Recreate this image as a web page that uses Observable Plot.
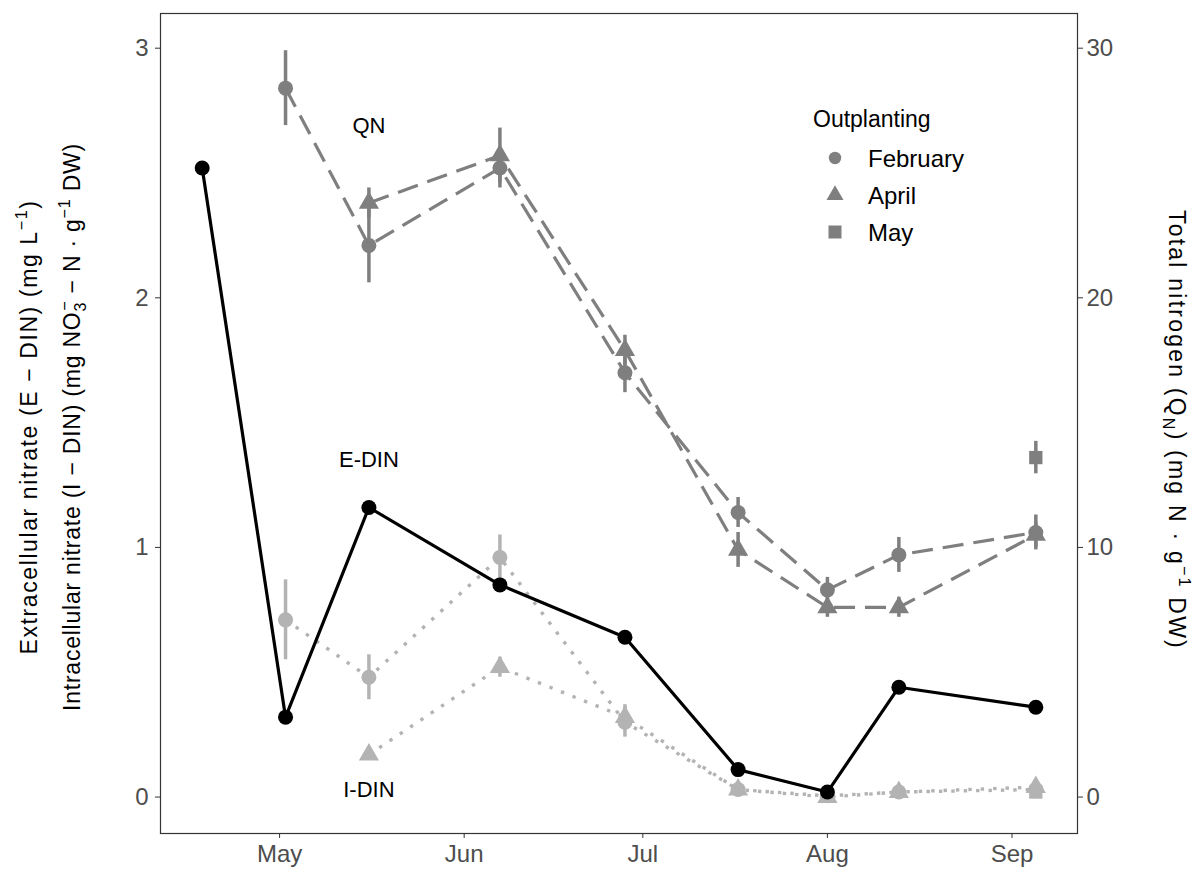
<!DOCTYPE html>
<html><head><meta charset="utf-8">
<script src="https://cdn.jsdelivr.net/npm/d3@7"></script>
<script src="https://cdn.jsdelivr.net/npm/@observablehq/plot@0.6"></script>
<style>
body{margin:0;background:#fff;font-family:Arial,"Liberation Sans",sans-serif;}
#wrap{position:relative;width:1196px;height:870px;}
g[aria-label$="tick label"]{fill:#4d4d4d;}
g[aria-label$="-axis tick"]{stroke:#333;}
</style></head><body><div id="wrap"></div>
<script>
// ---- data ----
const sampleDates = ["2019-05-02","2019-05-16","2019-06-07","2019-06-28","2019-07-17","2019-08-01","2019-08-13","2019-09-05"];
const ednDates = ["2019-04-18","2019-05-02","2019-05-16","2019-06-07","2019-06-28","2019-07-17","2019-08-01","2019-08-13","2019-09-05"];
const ednValues = [2.52,0.32,1.16,0.85,0.64,0.11,0.02,0.44,0.36];

const qnFeb    = [28.4,22.1,25.2,17.0,11.4,8.3,9.7,10.6];
const qnFebErr = [1.5,1.5,0.8,0.8,0.6,0.5,0.7,0.7];
const qnApr    = [null,23.8,25.7,17.9,9.9,7.6,7.6,10.5];
const qnAprErr = [null,0.6,1.1,0.6,0.7,0.4,0.4,0.5];
const qnMay    = [null,null,null,null,null,null,null,13.6];
const qnMayErr = [null,null,null,null,null,null,null,0.65];

const idinFeb    = [0.71,0.48,0.96,0.30,0.03,0.005,0.02,0.03];
const idinFebErr = [0.16,0.09,0.09,0.06,0.01,0.005,0.005,0.01];
const idinApr    = [null,0.17,0.52,0.32,0.03,0.0,0.02,0.04];
const idinAprErr = [null,0.01,0.04,0.05,0.01,0.003,0.005,0.01];
const idinMay    = [null,null,null,null,null,null,null,0.02];
const idinMayErr = [null,null,null,null,null,null,null,0.01];

const groups = ["February","April","May"];
const groupSymbols = ["circle","triangle","square"];
const legendTitle = "Outplanting";

const monthTicks = ["2019-05-01","2019-06-01","2019-07-01","2019-08-01","2019-09-01"];
const monthLabels = ["May","Jun","Jul","Aug","Sep"];
const leftTicks = [0,1,2,3];
const leftTickLabels = ["0","1","2","3"];
const rightTickLabels = ["0","10","20","30"];
const xDomainDates = ["2019-04-11","2019-09-12"];
const yDomain = [-0.146, 3.139];

const annotations = [
  {label:"QN", date:"2019-05-16", value:2.69},
  {label:"E-DIN", date:"2019-05-16", value:1.35},
  {label:"I-DIN", date:"2019-05-16", value:0.03}
];

// ---- build ----
const parseDate = d3.utcParse("%Y-%m-%d");
function tidy(values, errs, group, scale=1){
  return sampleDates.map((d,i)=>({date:parseDate(d), group, value:values[i]==null?null:values[i]/scale, err:errs[i]==null?null:errs[i]/scale}))
    .filter(r=>r.value!=null);
}
const qnRows = [...tidy(qnFeb,qnFebErr,"February",10), ...tidy(qnApr,qnAprErr,"April",10), ...tidy(qnMay,qnMayErr,"May",10)];
const idinRows = [...tidy(idinFeb,idinFebErr,"February"), ...tidy(idinApr,idinAprErr,"April"), ...tidy(idinMay,idinMayErr,"May")];
const ednRows = ednDates.map((d,i)=>({date:parseDate(d), value:ednValues[i]}));
const annRows = annotations.map(a=>({...a, date:parseDate(a.date)}));

const GREY = "#7f7f7f", LIGHT = "#b3b3b3";
const FONT = "Arial, 'Liberation Sans', sans-serif";

const chart = Plot.plot({
  width:1196, height:870,
  marginLeft:160, marginRight:119, marginTop:13, marginBottom:37,
  style:{fontFamily:FONT, background:"#fff", overflow:"visible"},
  x:{type:"utc", domain:xDomainDates.map(parseDate)},
  y:{domain:yDomain},
  symbol:{domain:groups, range:groupSymbols},
  marks:[
    // I-DIN
    Plot.line(idinRows, {x:"date", y:"value", z:"group", stroke:LIGHT, strokeWidth:3.4, strokeDasharray:"3.4,9", strokeLinecap:"butt"}),
    Plot.ruleX(idinRows, {x:"date", y1:d=>d.value-d.err, y2:d=>d.value+d.err, stroke:LIGHT, strokeWidth:3.5}),
    Plot.dot(idinRows, {x:"date", y:"value", symbol:"group", fill:LIGHT, r:7.5}),
    // QN
    Plot.line(qnRows, {x:"date", y:"value", z:"group", stroke:GREY, strokeWidth:3.2, strokeDasharray:"21,10", strokeLinecap:"butt"}),
    Plot.ruleX(qnRows, {x:"date", y1:d=>d.value-d.err, y2:d=>d.value+d.err, stroke:GREY, strokeWidth:3.5}),
    Plot.dot(qnRows, {x:"date", y:"value", symbol:"group", fill:GREY, r:7.5}),
    // E-DIN
    Plot.line(ednRows, {x:"date", y:"value", stroke:"#000", strokeWidth:3.2}),
    Plot.dot(ednRows, {x:"date", y:"value", fill:"#000", r:7.5}),
    // annotations
    Plot.text(annRows, {x:"date", y:"value", text:"label", fontSize:22, fill:"#000"}),
    Plot.frame({stroke:"#333", strokeWidth:1.2}),
    Plot.axisX({ticks:monthTicks.map(parseDate), tickFormat:(d,i)=>monthLabels[i], tickSize:5, tickPadding:6, fontSize:24, label:null}),
    Plot.axisY({anchor:"left", ticks:leftTicks, tickFormat:(d,i)=>leftTickLabels[i], tickSize:5, tickPadding:7, fontSize:24, label:null}),
    Plot.axisY({anchor:"right", ticks:leftTicks, tickFormat:(d,i)=>rightTickLabels[i], tickSize:5, tickPadding:4, fontSize:24, label:null})
  ]
});
document.getElementById("wrap").appendChild(chart);

const svg = d3.select(chart);
const extra = svg.append("g").attr("font-family", FONT).attr("fill","#000");

function richText(x, y, angle, parts, size, targetLength){
  const t = extra.append("text").attr("transform",`translate(${x},${y}) rotate(${angle})`)
    .attr("text-anchor","middle").attr("font-size",size);
  let cur = 0;
  for(const p of parts){
    const target = p.sup ? -0.42*size : p.sub ? 0.28*size : 0;
    const ts = t.append("tspan").text(p.t).attr("dy", target-cur);
    if(p.sup || p.sub) ts.attr("font-size", size*0.7);
    if(p.dx) ts.attr("dx", p.dx);
    cur = target;
  }
  const node = t.node();
  const natural = node.getComputedTextLength();
  const n = node.textContent.length;
  if (targetLength && n > 1) t.attr("letter-spacing", Math.max(0,(targetLength-natural)/n));
  return t;
}
const TS = 23;
richText(37, 427, -90, [
  {t:"Extracellular nitrate (E \u2212 DIN) (mg L"}, {t:"\u22121", sup:true}, {t:")"}
], TS, 455);
richText(80, 427, -90, [
  {t:"Intracellular nitrate (I \u2212 DIN) (mg NO"}, {t:"3", sub:true}, {t:"\u2212", sup:true, dx:-9},
  {t:" \u2212 N \u00b7 g"}, {t:"\u22121", sup:true}, {t:" DW)"}
], TS, 577);
richText(1169, 430, 90, [
  {t:"Total nitrogen (Q"}, {t:"N", sub:true}, {t:") (mg N \u00b7 g"}, {t:"\u22121", sup:true}, {t:" DW)"}
], TS, 440);

// legend
const lg = extra.append("g").attr("text-anchor","start");
lg.append("text").attr("x",813).attr("y",127).attr("font-size",23).text(legendTitle);
const symTypes = {circle:[d3.symbolCircle,121], triangle:[d3.symbolTriangle,125], square:[d3.symbolSquare,169]};
groups.forEach((gname,i)=>{
  const cy = 158 + 37*i;
  const [type,size] = symTypes[groupSymbols[i]];
  lg.append("path").attr("d", d3.symbol(type, size)()).attr("transform",`translate(835,${cy})`).attr("fill",GREY);
  lg.append("text").attr("x",868).attr("y",cy+9).attr("font-size",24).text(gname);
});
</script>
</body></html>
